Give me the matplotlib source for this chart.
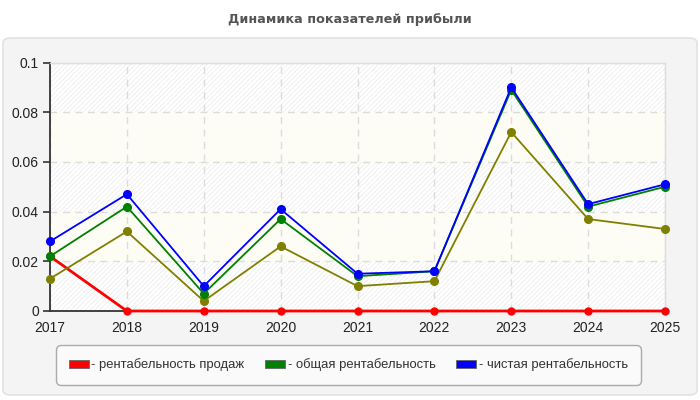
import matplotlib
matplotlib.use("Agg")
import matplotlib.pyplot as plt
from matplotlib.patches import FancyBboxPatch

# --- data ---
years = [2017, 2018, 2019, 2020, 2021, 2022, 2023, 2024, 2025]
sales_margin = [0.022, 0.0, 0.0, 0.0, 0.0, 0.0, 0.0, 0.0, 0.0]
total_margin = [0.022, 0.042, 0.007, 0.037, 0.014, 0.016, 0.089, 0.042, 0.050]
net_margin = [0.028, 0.047, 0.010, 0.041, 0.015, 0.016, 0.090, 0.043, 0.051]
other_margin = [0.013, 0.032, 0.004, 0.026, 0.010, 0.012, 0.072, 0.037, 0.033]

y_ticks = [0, 0.02, 0.04, 0.06, 0.08, 0.1]
y_tick_labels = ["0", "0.02", "0.04", "0.06", "0.08", "0.1"]
legend_labels = ["- рентабельность продаж", "- общая рентабельность", "- чистая рентабельность"]
legend_colors = ["#ff0000", "#008000", "#0000ff"]

plt.rcParams["font.family"] = ["Liberation Sans", "DejaVu Sans"]
plt.rcParams["hatch.linewidth"] = 0.5

W, H = 700, 400
fig = plt.figure(figsize=(7, 4), dpi=100, facecolor="white")

# rounded panel behind the chart
panel = FancyBboxPatch((3 / W, 5 / H), 694 / W, 357 / H,
                       boxstyle="round,pad=0,rounding_size=0.012",
                       transform=fig.transFigure, facecolor="#f4f4f4",
                       edgecolor="#e2e2e2", linewidth=1.2, zorder=-10)
fig.patches.append(panel)

fig.text(350 / W, 1 - 20 / H, "Динамика показателей прибыли", ha="center", va="center",
         fontsize=9.2, fontweight="bold", color="#555555", family=["DejaVu Sans"])

ax = fig.add_axes([50 / W, 89 / H, 615 / W, 248.5 / H], zorder=1)
ax.set_facecolor("white")
ax.set_xlim(years[0], years[-1])
ax.set_ylim(0, 0.1)

# alternating bands: hatched / pale yellow
for i in range(len(y_ticks) - 1):
    lo, hi = y_ticks[i], y_ticks[i + 1]
    if i % 2 == 0:
        ax.axhspan(lo, hi, facecolor="white", edgecolor="#ebebeb", hatch="///////",
                   linewidth=0, zorder=0)
    else:
        ax.axhspan(lo, hi, facecolor="#fdfdf6", linewidth=0, zorder=0)

ax.grid(True, color="#dcdcdc", linestyle=(0, (5, 4)), linewidth=1, zorder=1)
ax.set_axisbelow(True)

ax.set_xticks(years)
ax.set_xticklabels([str(y) for y in years])
ax.set_yticks(y_ticks)
ax.set_yticklabels(y_tick_labels)
ax.tick_params(axis="y", length=5, width=1.2, color="#333333", labelsize=10,
               labelcolor="#222222", pad=3)
ax.tick_params(axis="x", length=0, labelsize=10, labelcolor="#222222", pad=7)

for side in ["top", "right"]:
    ax.spines[side].set_color("#dddddd")
    ax.spines[side].set_linewidth(1)
for side in ["left", "bottom"]:
    ax.spines[side].set_color("#333333")
    ax.spines[side].set_linewidth(1.3)

ax.plot(years, sales_margin, color="#ff0000", linewidth=2, marker="o", markersize=5,
        clip_on=False, zorder=5)
ax.plot(years, other_margin, color="#808000", linewidth=1.3, marker="o", markersize=5.5,
        clip_on=False, zorder=6)
ax.plot(years, total_margin, color="#008000", linewidth=1.3, marker="o", markersize=5.5,
        clip_on=False, zorder=7)
ax.plot(years, net_margin, color="#0000ff", linewidth=1.3, marker="o", markersize=5.5,
        clip_on=False, zorder=8)

handles = [plt.Rectangle((0, 0), 1, 1, facecolor=c, edgecolor="#666666", linewidth=0.6)
           for c in legend_colors]
leg = fig.legend(handles, legend_labels, loc="center", bbox_to_anchor=(348.5 / W, 1 - 365 / H),
                 ncol=3, frameon=True, handlelength=1.5, handleheight=0.6,
                 handletextpad=0.2, columnspacing=1.6, borderpad=1.05, fancybox=True,
                 prop={"family": ["Liberation Sans", "DejaVu Sans"], "size": 9.4})
frame = leg.get_frame()
frame.set_facecolor("#fafafa")
frame.set_edgecolor("#aaaaaa")
frame.set_linewidth(1)
frame.set_alpha(1)
frame.set_boxstyle("round,pad=0,rounding_size=0.4")
for t in leg.get_texts():
    t.set_color("#333333")

fig.savefig("out.png", dpi=100, facecolor="white")
